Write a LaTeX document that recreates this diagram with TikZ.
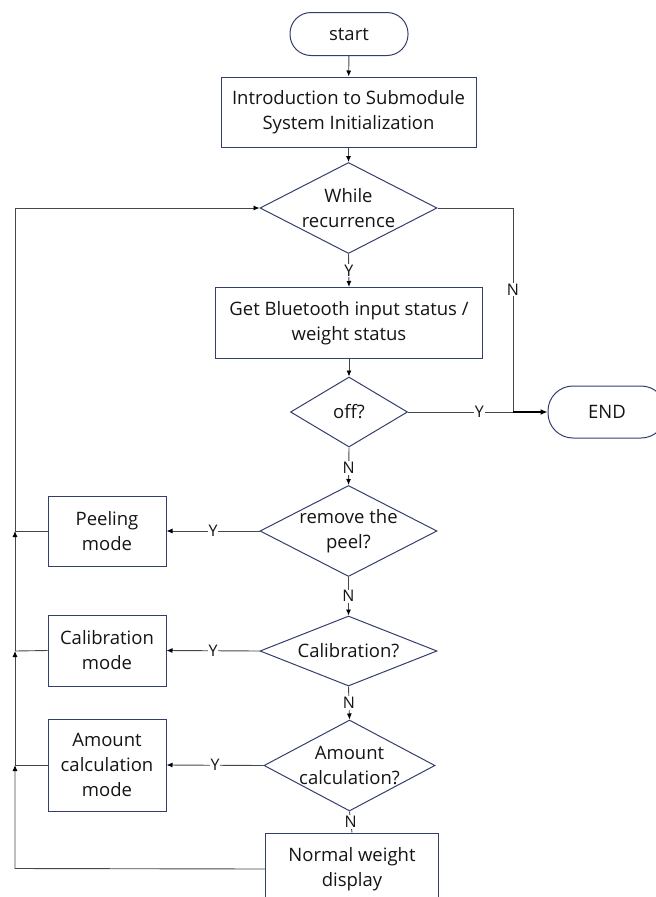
\documentclass[tikz,border=0pt]{standalone}
\usepackage{fontspec}
\setmainfont{Open Sans}
\usetikzlibrary{shapes.geometric,arrows.meta}
\definecolor{boxc}{RGB}{52,62,108}
\definecolor{linec}{RGB}{70,70,70}
\definecolor{txtc}{RGB}{20,20,20}
\begin{document}
\begin{tikzpicture}[x=1pt,y=-1pt,
  every node/.style={font=\fontsize{18.5}{25}\selectfont, text=txtc},
  term/.style={draw=boxc, line width=1pt, rounded corners=21pt, inner sep=0pt},
  proc/.style={draw=boxc, line width=1pt, inner sep=0pt, align=center},
  dia/.style={draw=boxc, line width=1pt, diamond, inner sep=0pt},
  dtext/.style={align=center, font=\fontsize{18.5}{25}\selectfont, text=txtc},
  conn/.style={draw=linec, line width=0.9pt},
  arr/.style={conn, -{Latex[length=6pt,width=5pt,color=black]}},
  lbl/.style={fill=white, inner sep=1pt, font=\fontsize{16}{18}\selectfont}
]
\useasboundingbox (0,0) rectangle (656,897);
% nodes
\node[term, minimum width=118pt, minimum height=43pt] (start) at (349,34) {start};
\node[proc, minimum width=255pt, minimum height=70pt] (init) at (348.5,112) {Introduction to Submodule\\System Initialization};
\node[dia, minimum width=177pt, minimum height=91pt,
  label={[dtext]center:While\\recurrence}] (while) at (348.5,208) {};
\node[proc, minimum width=267pt, minimum height=71pt] (get) at (349,323) {Get Bluetooth input status /\\weight status};
\node[dia, minimum width=117pt, minimum height=70pt,
  label={[dtext]center:off?}] (off) at (349,412) {};
\node[term, rounded corners=25pt, minimum width=118pt, minimum height=52pt] (endn) at (607,412) {END};
\node[dia, minimum width=177pt, minimum height=91pt,
  label={[dtext]center:remove the\\peel?}] (peel) at (348.5,531) {};
\node[proc, minimum width=118pt, minimum height=70pt] (peelm) at (107,531) {Peeling\\mode};
\node[dia, minimum width=177pt, minimum height=70pt,
  label={[dtext]center:Calibration?}] (cal) at (348.5,651) {};
\node[proc, minimum width=118pt, minimum height=71pt] (calm) at (107,650.5) {Calibration\\mode};
\node[dia, minimum width=171pt, minimum height=91pt,
  label={[dtext]center:Amount\\calculation?}] (amt) at (349.5,765.5) {};
\node[proc, minimum width=118pt, minimum height=92pt] (amtm) at (107,765) {Amount\\calculation\\mode};
\node[proc, minimum width=172.5pt, minimum height=72pt] (norm) at (352,869) {Normal weight\\display};
% helper coordinates
\coordinate (jr) at (513,412);
\coordinate (rt) at (513,208);
\coordinate (lt) at (15,208);
\coordinate (l1) at (15,531);
\coordinate (l2) at (15,651);
\coordinate (l3) at (15,765);
\coordinate (lb) at (15,868.5);
% connectors
\draw[arr] (start) -- (init);
\draw[arr] (init) -- (while);
\draw[arr] (while.south) -- node[lbl, pos=0.5]{Y} (get.north);
\draw[conn] (while.east) -- (rt) -- node[lbl, pos=0.4]{N} (jr);
\draw[conn] (off.east) -- node[lbl, pos=0.68]{Y} (jr);
\draw[draw=black, line width=1.3pt, -{Latex[length=7pt,width=6pt]}] (jr) -- (endn.west);
\draw[arr] (get) -- (off);
\draw[arr] (off.south) -- node[lbl, pos=0.55]{N} (peel.north);
\draw[arr] (peel.west) -- node[lbl, pos=0.5]{Y} (peelm.east);
\draw[arr] (peel.south) -- node[lbl, pos=0.5]{N} (cal.north);
\draw[arr] (cal.west) -- node[lbl, pos=0.5]{Y} (calm.east);
\draw[arr] (cal.south) -- node[lbl, pos=0.5]{N} (amt.north);
\draw[arr] (amt.west) -- node[lbl, pos=0.5]{Y} (amtm.east);
\draw[conn] (amt.south) -- node[lbl, pos=0.5]{N} (norm.north);
% left loop
\draw[conn] (peelm.west) -- (l1);
\draw[conn] (calm.west) -- (l2);
\draw[conn] (amtm.west) -- (l3);
\draw[arr] (norm.west) -- (lb) -- (l3);
\draw[arr] (l3) -- (l2);
\draw[arr] (l2) -- (l1);
\draw[arr] (l1) -- (lt) -- (while.west);
\end{tikzpicture}
\end{document}
